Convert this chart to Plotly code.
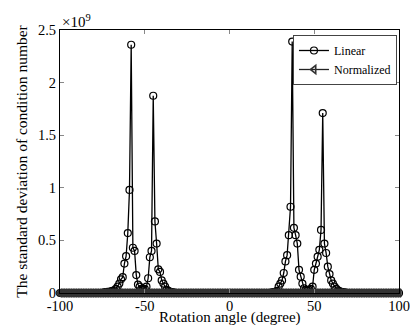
import plotly.graph_objects as go

# Rotation angles (degree), 1-degree steps
angles = list(range(-100, 101))

# Non-zero readings of the "Linear" series (units of 1e9); all other angles read as 0
lin_angles_left = [-74, -73, -72, -71, -70, -69, -68, -67, -66, -65, -64, -63, -62, -61, -60, -59,
                   -58, -57, -56, -55, -54, -53, -52, -51, -50, -49, -48, -47, -46, -45, -44, -43,
                   -42, -41, -40, -39, -38, -37, -36, -35, -34, -33]
lin_values_left = [0.005, 0.008, 0.01, 0.012, 0.015, 0.02, 0.025, 0.04, 0.06, 0.09, 0.13, 0.15, 0.28, 0.35, 0.57, 0.98,
                   2.36, 0.43, 0.40, 0.17, 0.08, 0.06, 0.04, 0.035, 0.04, 0.06, 0.14, 0.34, 0.40, 1.875, 0.68, 0.47,
                   0.225, 0.20, 0.12, 0.09, 0.06, 0.03, 0.02, 0.012, 0.008, 0.005]
lin_angles_right = [25, 26, 27, 28, 29, 30, 31, 32, 33, 34, 35, 36, 37, 38, 39, 40, 41, 42, 43, 44, 45, 46,
                    47, 48, 49, 50, 51, 52, 53, 54, 55, 56, 57, 58, 59, 60, 61, 62, 63, 64, 65, 66, 67, 68]
lin_values_right = [0.005, 0.008, 0.012, 0.02, 0.06, 0.09, 0.12, 0.19, 0.30, 0.36, 0.55, 0.82, 2.39, 0.62, 0.55, 0.47,
                    0.22, 0.155, 0.09, 0.045, 0.03, 0.025, 0.03, 0.04, 0.06, 0.22, 0.28, 0.345, 0.41, 0.60, 1.71,
                    0.47, 0.38, 0.25, 0.18, 0.12, 0.09, 0.06, 0.04, 0.025, 0.015, 0.01, 0.008, 0.005]

# "Normalized" series reads as 0 everywhere
normalized = [0.0] * len(angles)

linear_map = dict(zip(lin_angles_left + lin_angles_right, lin_values_left + lin_values_right))
linear = [linear_map.get(a, 0.0) for a in angles]

y_ticks = [0, 0.5, 1, 1.5, 2, 2.5]
y_tick_text = ["0", "0.5", "1", "1.5", "2", "2.5"]
x_ticks = [-100, -50, 0, 50, 100]

FONT = "Liberation Serif"

fig = go.Figure()
fig.add_trace(go.Scatter(
    x=angles, y=linear, name="Linear", mode="lines+markers",
    line=dict(color="black", width=1.3),
    marker=dict(symbol="circle-open", size=7, color="black", line=dict(width=1.2)),
    cliponaxis=False,
))
fig.add_trace(go.Scatter(
    x=angles, y=normalized, name="Normalized", mode="lines+markers",
    line=dict(color="#222222", width=1.3),
    marker=dict(symbol="triangle-left-open", size=7, color="#333333", line=dict(width=1.6)),
    cliponaxis=False,
))

fig.update_layout(
    width=410, height=326,
    margin=dict(l=60, r=11, t=30, b=33),
    paper_bgcolor="white", plot_bgcolor="white",
    font=dict(family=FONT, size=15, color="black"),
    showlegend=True,
    legend=dict(
        x=0.994, y=0.981, xanchor="right", yanchor="top",
        bgcolor="white", bordercolor="#444444", borderwidth=1,
        font=dict(family=FONT, size=12, color="black"),
        tracegroupgap=0, itemwidth=30,
    ),
    xaxis=dict(
        range=[-100, 100], tickvals=x_ticks, ticktext=[str(v) for v in x_ticks],
        showgrid=False, zeroline=False, showline=True, linecolor="black", linewidth=1,
        mirror="ticks", ticks="inside", ticklen=4, tickcolor="#888888", automargin=False,
        ticklabeloverflow="allow", tickfont=dict(size=14.5),
    ),
    yaxis=dict(
        range=[0, 2.5], tickvals=y_ticks, ticktext=y_tick_text,
        showgrid=False, zeroline=False, showline=True, linecolor="black", linewidth=1,
        mirror="ticks", ticks="inside", ticklen=4, tickcolor="#888888", automargin=False,
        ticklabeloverflow="allow",
        title=dict(text="The standard deviation of condition number", standoff=6, font=dict(size=15.5)),
        tickfont=dict(size=14.5),
    ),
)

fig.add_annotation(
    text="Rotation angle (degree)", xref="paper", yref="paper", x=0.5, y=-0.094,
    xanchor="center", yanchor="middle", showarrow=False, borderpad=0,
    font=dict(family=FONT, size=15, color="black"),
)
fig.add_annotation(
    text="×10<sup>9</sup>", xref="paper", yref="paper", x=0.0, y=1.0,
    xanchor="left", yanchor="bottom", showarrow=False,
    font=dict(family=FONT, size=15, color="black"), yshift=-2,
)

fig.write_html("out.html")
